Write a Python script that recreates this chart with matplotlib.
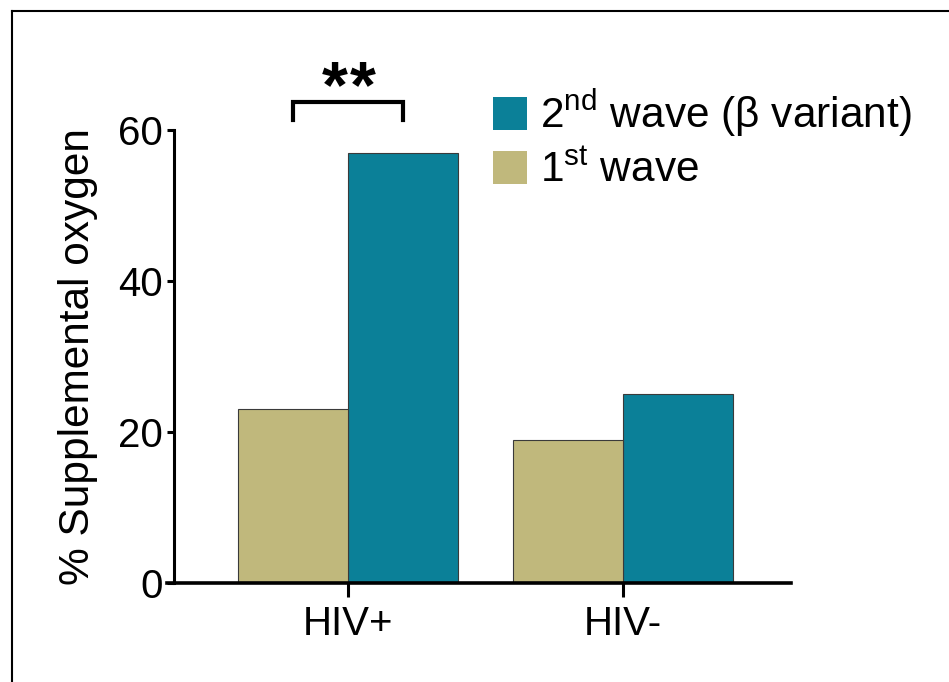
import matplotlib.pyplot as plt
import numpy as np

plt.rcParams['font.family'] = ['Liberation Sans', 'DejaVu Sans']
plt.rcParams['mathtext.fontset'] = 'custom'
plt.rcParams['mathtext.rm'] = 'Liberation Sans'

# data
groups = ['HIV+', 'HIV-']
first_wave = [23, 19]
second_wave = [57, 25]
labels = [r'2$^{\mathrm{nd}}$ wave (β variant)', r'1$^{\mathrm{st}}$ wave']
yticks = [0, 20, 40, 60]

col_first = '#c0b87c'
col_second = '#0b8098'

fig = plt.figure(figsize=(9.49, 6.82), dpi=100)
ax = fig.add_axes([167 / 949, 99 / 682, (791 - 167) / 949, (583 - 130) / 682])

x = np.arange(len(groups))
w = 0.4
b2 = ax.bar(x + w / 2, second_wave, w, color=col_second, edgecolor='#3a3a3a', linewidth=0.8)
b1 = ax.bar(x - w / 2, first_wave, w, color=col_first, edgecolor='#3a3a3a', linewidth=0.8)

ax.set_xlim(-0.658, 1.611)
ax.set_ylim(0, 60)
ax.spines['left'].set_position(('data', -0.633))
ax.spines['top'].set_visible(False)
ax.spines['right'].set_visible(False)
ax.spines['left'].set_linewidth(2.2)
ax.spines['bottom'].set_linewidth(2.6)

ax.set_yticks(yticks)
ax.set_xticks(x)
ax.set_xticklabels(groups)
ax.tick_params(axis='y', length=5, width=2.2, labelsize=29, pad=3)
ax.tick_params(axis='x', length=10, width=2.2, labelsize=29, pad=6)
ax.set_ylabel('% Supplemental oxygen', fontsize=30.5, labelpad=14)

# significance bracket between the two HIV+ bars
y0, y1 = 61.3, 63.7
ax.plot([-0.2, -0.2, 0.2, 0.2], [y0, y1, y1, y0],
        color='black', lw=3, clip_on=False, solid_joinstyle='miter')
for xs in (-0.049, 0.053):
    ax.text(xs, 63.0, '*', ha='center', va='baseline', fontsize=48,
            fontweight='bold', clip_on=False)

leg = ax.legend([b2, b1], labels, loc='upper left', bbox_to_anchor=(493 / 949, 1 - 88 / 682),
                bbox_transform=fig.transFigure, frameon=False, fontsize=30.5,
                handlelength=0.8, handleheight=0.8, handletextpad=0.3, labelspacing=0.28,
                borderpad=0, borderaxespad=0)
for h in leg.legend_handles:
    h.set_edgecolor('none')

# frame lines of the cropped figure
fig.add_artist(plt.Line2D([12 / 949, 1], [1 - 11 / 682, 1 - 11 / 682], color='black', lw=1.5))
fig.add_artist(plt.Line2D([12 / 949, 12 / 949], [0, 1 - 11 / 682], color='black', lw=1.5))

fig.savefig('out.png', dpi=100)
